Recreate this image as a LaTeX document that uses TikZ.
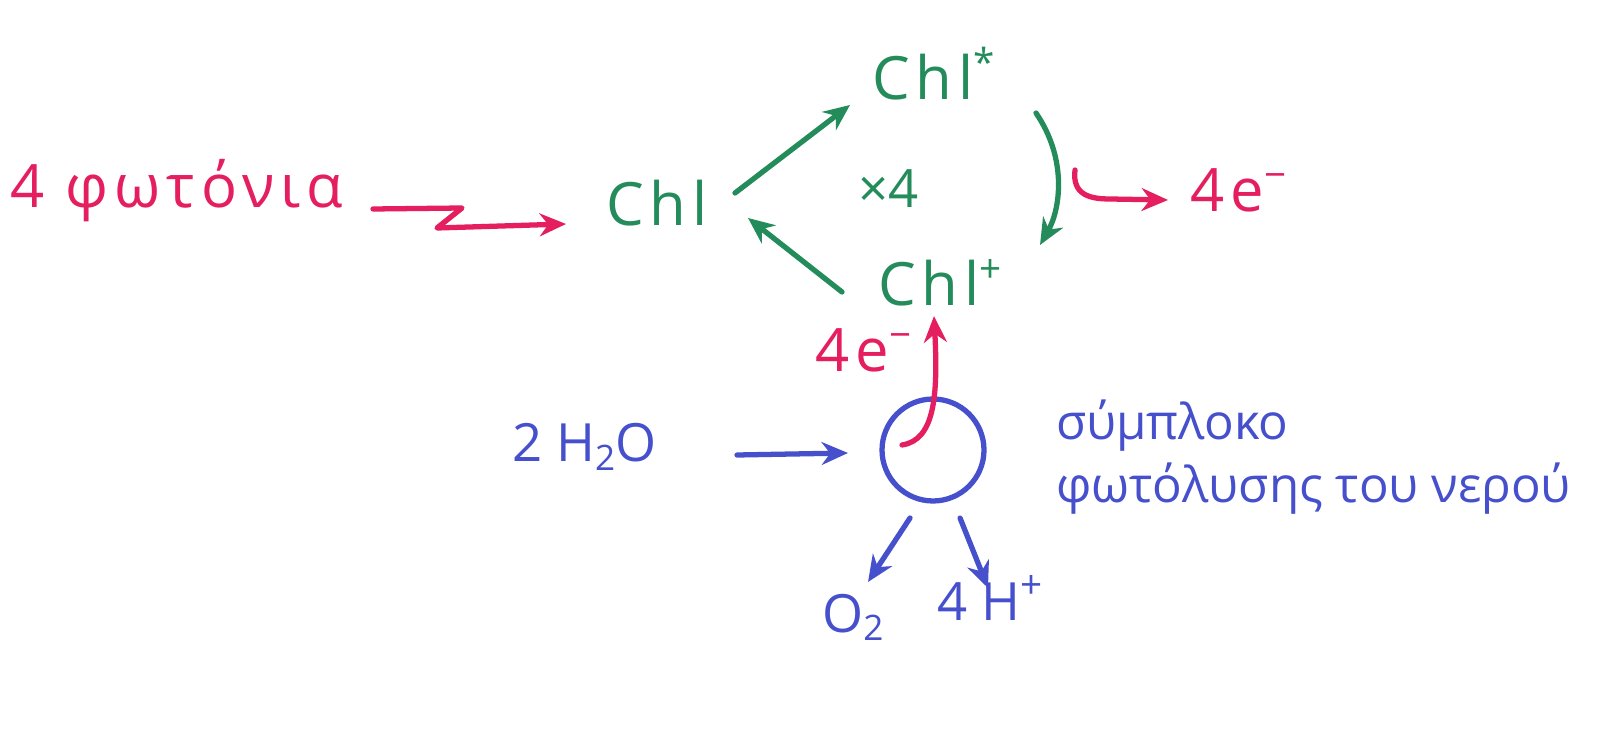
\documentclass[tikz,border=0pt]{standalone}
\usepackage{fontspec}
\setmainfont{Open Sans}
\usetikzlibrary{arrows.meta}
\definecolor{pinkink}{RGB}{228,30,95}
\definecolor{greenink}{RGB}{35,140,90}
\definecolor{blueink}{RGB}{70,80,205}
\newcommand\mysub[1]{\raisebox{-0.3ex}{\fontsize{20}{20}\selectfont #1}}
\newcommand\mysup[1]{\raisebox{0.75ex}{\fontsize{22}{22}\selectfont #1}}
\tikzset{
  lbl/.style={inner sep=0pt, anchor=base west},
  big/.style={font=\fontsize{34}{40}\selectfont\addfontfeature{LetterSpace=10}},
  mid/.style={font=\fontsize{30}{36}\selectfont},
  sml/.style={font=\fontsize{28}{33}\selectfont},
  arr/.style={line width=3pt, line cap=round, line join=round, -{Stealth[length=15pt,width=13pt]}},
}
\begin{document}
\begin{tikzpicture}[x=0.02cm,y=-0.02cm]
\useasboundingbox[fill=white] (0,0) rectangle (1601,732);
% texts
\node[lbl,big,text=pinkink] (phot) at (10,208) {4 φωτόνια};
\node[lbl,big,text=greenink] (chl) at (606,226) {Chl};
\node[lbl,big,text=greenink] (chls) at (872,100) {Chl\mysup{*}};
\node[lbl,big,text=greenink] (chlp) at (878,306) {Chl\mysup{+}};
\node[lbl,mid,text=greenink] (x4) at (858,208) {×4};
\node[lbl,big,text=pinkink] (e1) at (1190,212) {4e\mysup{−}};
\node[lbl,big,text=pinkink] (e2) at (815,372) {4e\mysup{−}};
\node[lbl,mid,text=blueink] (h2o) at (512,462) {2 H\mysub{2}O};
\node[lbl,sml,text=blueink] (cx1) at (1056,440) {σύμπλοκο};
\node[lbl,sml,text=blueink] (cx2) at (1056,502) {φωτόλυσης του νερού};
\node[lbl,mid,text=blueink] (o2) at (822,632) {O\mysub{2}};
\node[lbl,mid,text=blueink] (hp) at (937,620) {4 H\mysup{+}};
% circle
\node[draw=blueink, line width=3pt, circle, minimum size=2.04cm, inner sep=0pt] (cplx) at (933,450) {};
% coordinates for arrow ends
\coordinate (w0) at (373,209);
\coordinate (w1) at (462,208);
\coordinate (w2) at (437,228);
\coordinate (w3) at (566,224);
\coordinate (a1) at (735,193);
\coordinate (a2) at (850,105);
\coordinate (b1) at (1036,113);
\coordinate (b2) at (1040,245);
\coordinate (c1) at (842,292);
\coordinate (c2) at (748,218);
\coordinate (d1) at (1075,170);
\coordinate (d2) at (1168,200);
\coordinate (f1) at (902,445);
\coordinate (f2) at (934,316);
\coordinate (g1) at (737,455);
\coordinate (g2) at (848,453);
\coordinate (o1) at (910,518);
\coordinate (oe) at (868,582);
\coordinate (h1) at (960,518);
\coordinate (he) at (988,588);
% connectors
\draw[arr, draw=pinkink] (w0) -- (w1) -- (w2) -- (w3);
\draw[arr, draw=greenink] (a1) -- (a2);
\draw[arr, draw=greenink] (b1) .. controls (1068,160) and (1060,210) .. (b2);
\draw[arr, draw=greenink] (c1) -- (c2);
\draw[arr, draw=pinkink] (d1) .. controls (1072,195) and (1090,199) .. (1110,199) -- (d2);
\draw[arr, draw=pinkink] (f1) .. controls (935,440) and (938,395) .. (f2);
\draw[arr, draw=blueink] (g1) -- (g2);
\draw[arr, draw=blueink] (o1) -- (oe);
\draw[arr, draw=blueink] (h1) -- (he);
\end{tikzpicture}
\end{document}
